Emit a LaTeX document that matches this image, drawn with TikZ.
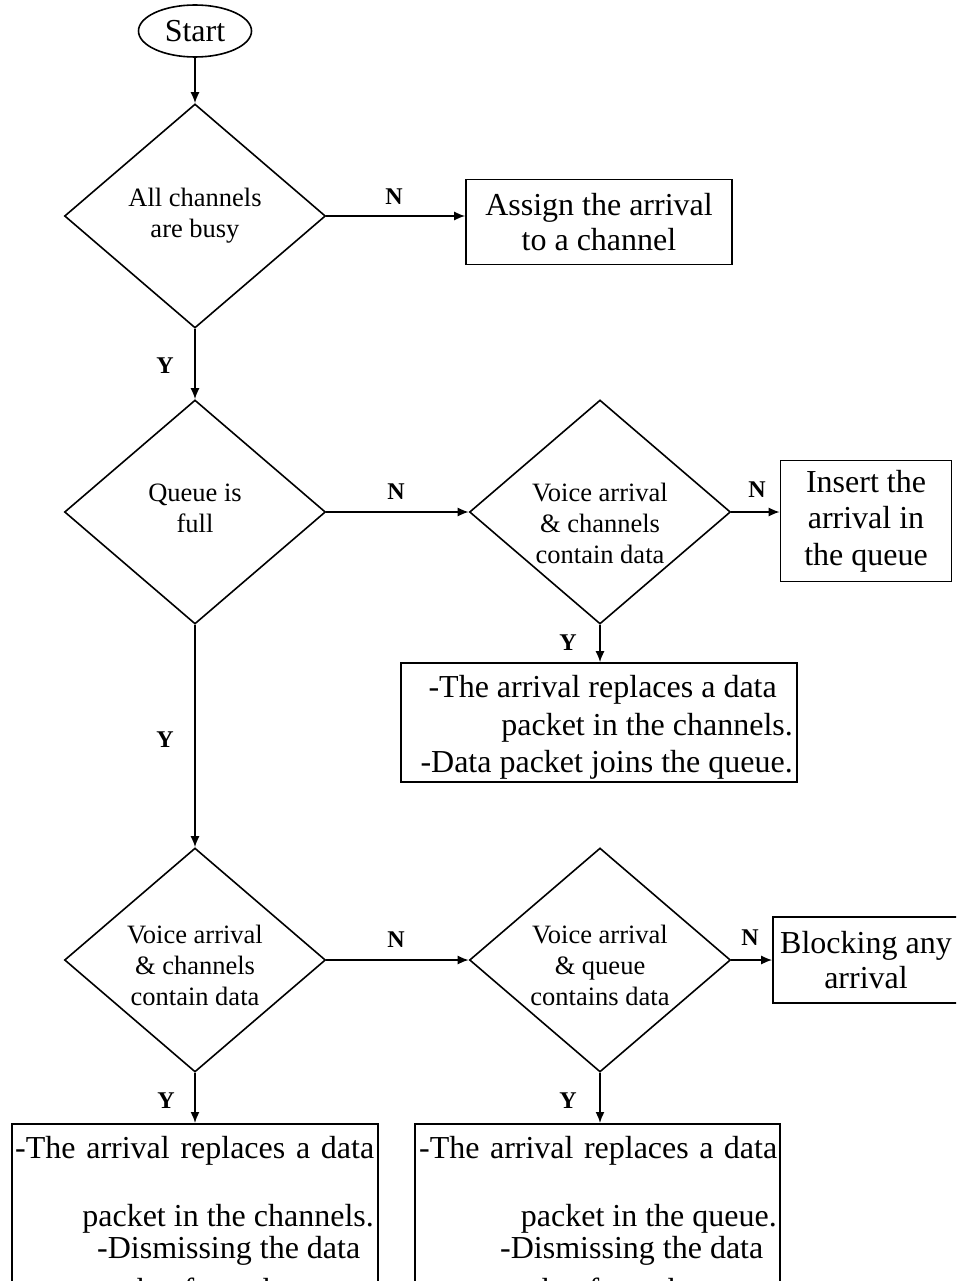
\documentclass[tikz,border=0pt]{standalone}
\usepackage{fontspec}
\setmainfont{Liberation Serif}
\usetikzlibrary{shapes.geometric,arrows.meta}

\begin{document}
\begin{tikzpicture}[x=1pt,y=-1pt,
  lw/.style={line width=1.6pt},
  flow/.style={lw,-{Latex[length=11pt,width=9pt]}},
  decision/.style={draw,lw,diamond,minimum width=261pt,minimum height=224pt,
    inner sep=0pt},
  dtext/.style={inner sep=0pt,align=center,font=\fontsize{26.5}{31}\selectfont},
  procbox/.style={draw,lw,rectangle,inner sep=0pt,align=center,
    font=\fontsize{32}{35}\selectfont},
  boxline/.style={inner sep=0pt,font=\fontsize{32}{35}\selectfont},
  yn/.style={font=\fontsize{24}{24}\selectfont\bfseries,inner sep=0pt}]

\useasboundingbox (0,0) rectangle (956,1281);
\clip (0,0) rectangle (956,1281);

% start and first decision
\node[draw,lw,ellipse,minimum width=113pt,minimum height=52pt,inner sep=0pt,
  font=\fontsize{32}{35}\selectfont] (start) at (195,31) {Start};
\node[decision] (d1) at (195,216) {};
\node[dtext] (d1t) at (195,216) {All channels\\are busy};
\node[procbox,minimum width=266pt,minimum height=85pt] (assign) at (599,222)
  {Assign the arrival\\to a channel};

% queue check
\node[decision] (d2) at (195,512) {};
\node[dtext] (d2t) at (195,508) {Queue is\\full};
\node[decision] (d3) at (600,512) {};
\node[dtext] (d3t) at (600,523) {Voice arrival\\\& channels\\contain data};
\node[procbox,minimum width=171pt,minimum height=121pt,
  font=\fontsize{32}{36.5}\selectfont] (insert) at (866,521)
  {Insert the\\arrival in\\the queue};
\node[procbox,minimum width=396pt,minimum height=119pt] (join) at (599,722.5) {};
\node[boxline,align=right,anchor=east,font=\fontsize{32}{37.5}\selectfont]
  (joint) at (793,727.5)
  {-The arrival replaces a data\hspace*{16pt}\\packet in the channels.\\-Data packet joins the queue.};

% full queue
\node[decision] (d4) at (195,960) {};
\node[dtext] (d4t) at (195,965) {Voice arrival\\\& channels\\contain data};
\node[decision] (d5) at (600,960) {};
\node[dtext] (d5t) at (600,965) {Voice arrival\\\& queue\\contains data};
\node[procbox,minimum width=186pt,minimum height=86pt] (block) at (866,960)
  {Blocking any\\arrival};

% replacement boxes running off the bottom edge
\node[draw,lw,rectangle,anchor=north,minimum width=366pt,minimum height=230pt,
  inner sep=0pt] (repc) at (195,1123) {};
\node[draw,lw,rectangle,anchor=north,minimum width=365pt,minimum height=230pt,
  inner sep=0pt] (repq) at (597.5,1123) {};

\node[boxline,anchor=base west] (c1) at (15,1158)
  {\makebox[359pt][s]{-The arrival replaces a data}};
\node[boxline,anchor=base east] (c2) at (374,1226) {packet in the channels.};
\node[boxline,anchor=base west] (c3) at (97,1258) {-Dismissing the data};
\node[boxline,anchor=base west] (c4) at (92,1300) {packet from the queue.};

\node[boxline,anchor=base west] (q1) at (419,1158)
  {\makebox[358pt][s]{-The arrival replaces a data}};
\node[boxline,anchor=base east] (q2) at (777,1226) {packet in the queue.};
\node[boxline,anchor=base west] (q3) at (500,1258) {-Dismissing the data};
\node[boxline,anchor=base west] (q4) at (497,1300) {packet from the queue.};

% connectors
\draw[flow] (start) -- (d1.north);
\draw[flow] (d1.east) -- (d1.east -| assign.west);
\draw[flow] (d1.south) -- (d2.north);
\draw[flow] (d2.east) -- (d3.west);
\draw[flow] (d3.east) -- (d3.east -| insert.west);
\draw[flow] (d3.south) -- (join.north -| d3.south);
\draw[flow] (d2.south) -- (d4.north);
\draw[flow] (d4.east) -- (d5.west);
\draw[flow] (d5.east) -- (block.west);
\draw[flow] (d4.south) -- (repc.north -| d4.south);
\draw[flow] (d5.south) -- (repq.north -| d5.south);

% branch labels
\node[yn] (n1) at (394,197) {N};
\node[yn] (y1) at (165,366) {Y};
\node[yn] (n2) at (396,492) {N};
\node[yn] (n3) at (757,490) {N};
\node[yn] (y2) at (568,643) {Y};
\node[yn] (y3) at (165,740) {Y};
\node[yn] (n4) at (396,940) {N};
\node[yn] (n5) at (750,938) {N};
\node[yn] (y4) at (166,1101) {Y};
\node[yn] (y5) at (568,1101) {Y};
\end{tikzpicture}
\end{document}
